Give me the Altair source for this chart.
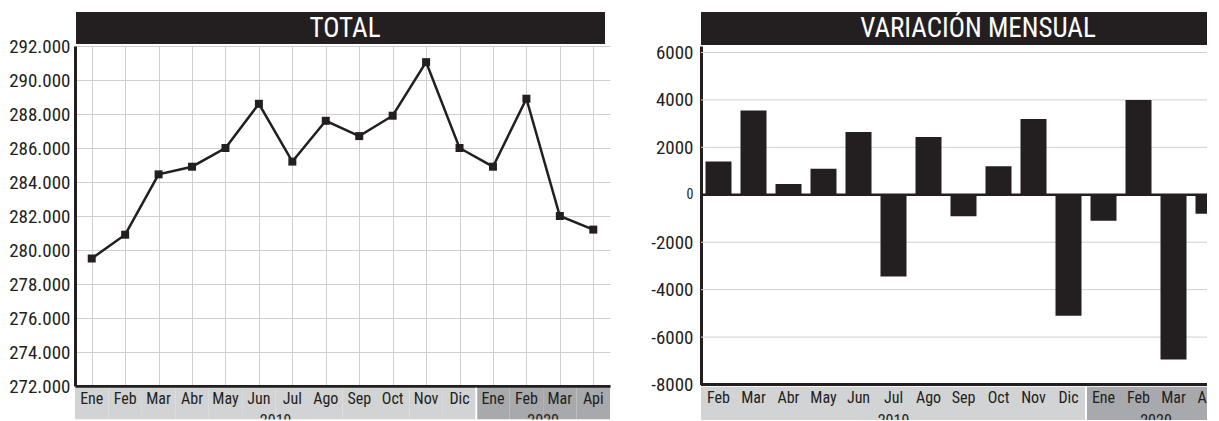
import altair as alt
import pandas as pd

# ---------------- data ----------------
months_left = ["Ene", "Feb", "Mar", "Abr", "May", "Jun", "Jul", "Ago", "Sep", "Oct", "Nov", "Dic",
               "Ene", "Feb", "Mar", "Api"]
years_left = ["2019"] * 12 + ["2020"] * 4
total = [279500, 280900, 284450, 284900, 286000, 288600, 285200, 287600, 286700, 287900, 291050,
         286000, 284900, 288900, 282000, 281200]

months_right = ["Feb", "Mar", "Abr", "May", "Jun", "Jul", "Ago", "Sep", "Oct", "Nov", "Dic",
                "Ene", "Feb", "Mar", "Abr"]
years_right = ["2019"] * 11 + ["2020"] * 4
variation = [1400, 3550, 450, 1100, 2650, -3450, 2440, -900, 1200, 3200, -5100,
             -1100, 4000, -6950, -800]

ticks_left = [272000, 274000, 276000, 278000, 280000, 282000, 284000, 286000, 288000, 290000, 292000]
ticks_right = [-8000, -6000, -4000, -2000, 0, 2000, 4000, 6000]

title_left = "TOTAL"
title_right = "VARIACIÓN MENSUAL"

# ---------------- style ----------------
FONT = "Roboto Condensed, DejaVu Sans Condensed, sans-serif"
DARK = "#231f20"
GRID = "#cfcfcf"
LIGHT = "#d1d3d4"
MID = "#a7a9ac"
LW, LH = 535, 340          # left plot
RW, RH = 506, 338.5        # right plot (visible part)
RRANGE = 525               # right band scale extends past the visible edge
LSH, RSH = 32, 33.5        # label strip heights

keys_left = [f"{m} {y}" for m, y in zip(months_left, years_left)]
keys_right = [f"{m} {y}" for m, y in zip(months_right, years_right)]

left_df = pd.DataFrame({"key": keys_left, "mes": months_left, "anio": years_left, "total": total})
right_df = pd.DataFrame({"key": keys_right, "mes": months_right, "anio": years_right, "var": variation})

year_color = alt.Scale(domain=["2019", "2020"], range=[LIGHT, MID])

# ================= left panel =================
xl_axis = alt.Axis(title=None, labels=False, ticks=False, domain=True, domainColor=DARK,
                   domainWidth=3, grid=True, gridColor=GRID, gridWidth=1, bandPosition=0.5)
xl_scale = alt.Scale(paddingInner=0, paddingOuter=0)


def xl(**kw):
    return alt.X("key:N", sort=keys_left, scale=xl_scale, axis=xl_axis, **kw)


def xls(**kw):
    return alt.X("key:N", sort=keys_left, scale=xl_scale, axis=None, **kw)


yl = alt.Y("total:Q",
           scale=alt.Scale(domain=[ticks_left[0], ticks_left[-1]], nice=False, zero=False),
           axis=alt.Axis(title=None, values=ticks_left,
                         labelExpr="replace(format(datum.value, ','), ',', '.')",
                         ticks=False, labelPadding=5, labelFont=FONT, labelFontSize=19,
                         labelColor=DARK, domainColor=DARK, domainWidth=3,
                         grid=True, gridColor=GRID, gridWidth=1))

base_l = alt.Chart(left_df)
tbar_l = alt.Chart(pd.DataFrame({"t": [title_left]})).mark_rect(color=DARK).encode(
    x=alt.value(1), x2=alt.value(LW - 5), y=alt.value(-34), y2=alt.value(-2))
ttext_l = alt.Chart(pd.DataFrame({"t": [title_left]})).mark_text(
    font=FONT, fontSize=27, color="white", baseline="middle", align="center").encode(
    x=alt.value(270), y=alt.value(-17), text="t:N")
line_l = base_l.mark_line(color=DARK, strokeWidth=2.5).encode(x=xl(), y=yl)
pts_l = base_l.mark_square(size=64, color=DARK, opacity=1).encode(x=xl(), y=yl)
main_l = alt.layer(tbar_l, ttext_l, line_l, pts_l).properties(width=LW, height=LH)

band_l = base_l.mark_rect(clip=True).encode(
    x=xls(), y=alt.value(0), y2=alt.value(LSH),
    color=alt.Color("anio:N", scale=year_color, legend=None))
sep_l = base_l.transform_filter(alt.datum.key == "Ene 2020").mark_rule(
    color="white", strokeWidth=2, clip=True).encode(
    x=xls(bandPosition=0), y=alt.value(0), y2=alt.value(LSH))
month_l = base_l.mark_text(font=FONT, fontSize=16, color=DARK, baseline="middle", clip=True).encode(
    x=xls(), y=alt.value(11), text="mes:N")
year_l = alt.Chart(pd.DataFrame({"key": ["Jul 2019", "Mar 2020"], "anio": ["2019", "2020"]})).mark_text(
    font=FONT, fontSize=16, color=DARK, baseline="middle", clip=True).encode(
    x=xls(bandPosition=0), y=alt.value(33), text="anio:N")
strip_l = alt.layer(band_l, sep_l, month_l, year_l).properties(width=LW, height=LSH)

left = alt.vconcat(main_l, strip_l, spacing=1.5, bounds="flush")

# ================= right panel =================
xr_scale = alt.Scale(range=[0, RRANGE], paddingInner=0, paddingOuter=0)


def xr(**kw):
    return alt.X("key:N", sort=keys_right, scale=xr_scale, axis=None, **kw)


yr_scale = alt.Scale(domain=[-8000, 6274], nice=False, zero=False)
yr_axis = alt.Axis(title=None, values=ticks_right, labelExpr="'' + datum.value",
                   ticks=False, labelPadding=8, labelFont=FONT,
                   labelFontSize=alt.condition("datum.value == 0", alt.value(14), alt.value(19)),
                   labelColor=DARK, domainColor=DARK, domainWidth=3, grid=False)


def yr(field):
    return alt.Y(field, scale=yr_scale, axis=yr_axis)


base_r = alt.Chart(right_df)
grid_r = alt.Chart(pd.DataFrame({"v": ticks_right[1:]})).mark_rule(color=GRID, strokeWidth=1).encode(
    y=yr("v:Q"))
tbar_r = alt.Chart(pd.DataFrame({"t": [title_right]})).mark_rect(color=DARK).encode(
    x=alt.value(0), x2=alt.value(RW), y=alt.value(-34), y2=alt.value(-1))
ttext_r = alt.Chart(pd.DataFrame({"t": [title_right]})).mark_text(
    font=FONT, fontSize=27, color="white", baseline="middle", align="center").encode(
    x=alt.value(277), y=alt.value(-17), text="t:N")
bars_r = base_r.mark_bar(color=DARK, width=alt.RelativeBandSize(0.743), clip=True).encode(
    x=xr(), y=yr("var:Q"))
zero_r = alt.Chart(pd.DataFrame({"z": [0]})).mark_rule(color=DARK, strokeWidth=2.5).encode(
    y=yr("z:Q"))
base_line_r = alt.Chart(pd.DataFrame({"z": [ticks_right[0]]})).mark_rule(color=DARK, strokeWidth=3).encode(
    y=yr("z:Q"))
main_r = alt.layer(grid_r, tbar_r, ttext_r, bars_r, zero_r, base_line_r).properties(width=RW, height=RH)

band_r = base_r.mark_rect(clip=True).encode(
    x=xr(), y=alt.value(0), y2=alt.value(RSH),
    color=alt.Color("anio:N", scale=year_color, legend=None))
sep_r = base_r.transform_filter(alt.datum.key == "Ene 2020").mark_rule(
    color="white", strokeWidth=2, clip=True).encode(
    x=xr(bandPosition=0), y=alt.value(0), y2=alt.value(RSH))
month_r = base_r.mark_text(font=FONT, fontSize=16, color=DARK, baseline="middle", clip=True).encode(
    x=xr(), y=alt.value(11), text="mes:N")
year_r1 = alt.Chart(pd.DataFrame({"key": ["Jul 2019"], "anio": ["2019"]})).mark_text(
    font=FONT, fontSize=16, color=DARK, baseline="middle", clip=True).encode(
    x=xr(bandPosition=0.5), y=alt.value(34.5), text="anio:N")
year_r2 = alt.Chart(pd.DataFrame({"key": ["Mar 2020"], "anio": ["2020"]})).mark_text(
    font=FONT, fontSize=16, color=DARK, baseline="middle", clip=True).encode(
    x=xr(bandPosition=0), y=alt.value(34.5), text="anio:N")
strip_r = alt.layer(band_r, sep_r, month_r, year_r1, year_r2).properties(width=RW, height=RSH)

right = alt.vconcat(main_r, strip_r, spacing=1.5, bounds="flush")

chart = alt.hconcat(left, right, spacing=40).properties(
    padding={"left": 0, "top": 4, "right": 0, "bottom": 0}
).configure_view(stroke=None)

chart.save("out.html", embed_options={"renderer": "svg", "actions": False})
